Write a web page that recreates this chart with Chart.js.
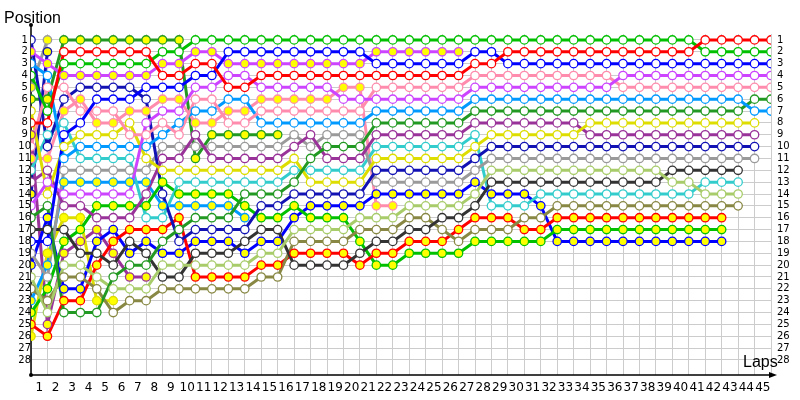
<!DOCTYPE html>
<html>
<head>
<meta charset="utf-8">
<script src="https://cdn.jsdelivr.net/npm/chart.js@4.4.0/dist/chart.umd.min.js"></script>
<style>
  html, body { margin: 0; padding: 0; background: #fff; }
  #wrap { width: 800px; height: 400px; }
</style>
</head>
<body>
<div id="wrap"><canvas id="lapChart"></canvas></div>
<script>
// Laps (x) and positions (y)
const laps = [0,1,2,3,4,5,6,7,8,9,10,11,12,13,14,15,16,17,18,19,20,21,22,23,24,25,26,27,28,29,30,31,32,33,34,35,36,37,38,39,40,41,42,43,44,45];
const positions = [1,2,3,4,5,6,7,8,9,10,11,12,13,14,15,16,17,18,19,20,21,22,23,24,25,26,27,28];

// Position of each car per lap, starting at the grid (lap 0)
const navy1 = [1,10,6,5,5,5,5,6,14,18, 17,17,17,17,15,15,14,14,14,14, 14,12,12,12,12,12,12,11,10,10, 10,10,10,10,10,10,10,10,10,10, 10,10,10,10,10];
const navy2 = [14,2];
const magenta2 = [2,3,4,4,4,4,4,4,3,3, 2,2,3,3,3,3,3,3,3,3, 3,2,2,2,2,2,2];
const magenta1 = [15,13,14,14,14,14,14,8,7,7, 5,5,4,4,5,5,5,5,5,6, 6,6,6,6,6,6,6,5,5,5, 5,5,5,5,5,5,4,4,4,4, 4,4,4,4,4,4];
const lightblue1 = [3,4,11,10,10,10,10,10,9,8, 7,7,6,6,8,8,8,8,8,8, 8,7,7,7,7,7,7,6,6,6, 6,6,6,6,6,6,6,6,6,6, 6,6,6,6,7,7];
const lightblue2 = [23,20,13,13,13,13,13,13,15,15, 15,15,15,16];
const green1 = [4,7,3,3,3,3,3,3,2,2, 1,1,1,1,1,1,1,1,1,1, 1,1,1,1,1,1,1,1,1,1, 1,1,1,1,1,1,1,1,1,1, 1,2,2,2,2,2];
const green2 = [24,22,18,17,15,15,15,15,13,14, 14,14,14,15,16,16,15,16,16,16, 18,20,20,19,19,19,19,18,18,18, 18,18,17,17,17,17,17,17,17,17, 17,17,17];
const gray2 = [5,1];
const gray1 = [19,21,12,12,12,12,12,12,10,10, 10,10,10,10,10,10,9,10,9,9, 9,13,13,13,13,13,13,12,11,11, 11,11,11,11,11,11,11,11,11,11, 11,11,11,11,11];
const dgreen2 = [6,6,1,1,1,1,1,1,1,1, 11,9,9,9,9,9];
const dgreen1 = [16,15,24,24,24,21,20,20,18,17, 16,16,16,14,14,14,13,11,10,10, 10,8,8,8,8,8,8,7,7,7, 7,7,7,7,7,7,7,7,7,7, 7,7,7,7,6,6];
const yellow1 = [7,14,10,9,9,9,8,11,12,12, 12,12,12,12,12,12,11,13,13,13, 13,11,11,11,11,11,11,10,9,9, 9,9,9,9,8,8,8,8,8,8, 8,8,8,8,8];
const yellow2 = [26,19,16,16,23,23];
const red1 = [8,8,2,2,2,2,2,2,4,4, 3,3,5,5,4,4,4,4,4,4, 4,4,4,4,4,4,4,3,3,2, 2,2,2,2,2,2,2,2,2,2, 2,1,1,1,1,1];
const red2 = [25,26,23,23,20,18,17,17,17,16, 21,21,21,21,20,20,19,19,19,19, 20,19,19,18,18,18,17,16,16,16, 17,17,16,16,16,16,16,16,16,16, 16,16,16];
const purple2 = [9,25,19,18,17,19,21,21];
const purple1 = [13,12,15,15,16,16,16,14,11,11, 9,11,11,11,11,11,10,9,11,11, 11,9,9,9,9,9,9,8,8,8, 8,8,8,8,9,9,9,9,9,9, 9,9,9,9,9];
const pink1 = [10,5,5,7,7,7,9,9,8,9, 6,6,8,8,7,7,7,7,7,7, 7,5,5,5,5,5,5,4,4,4, 4,4,4,4,4,4,5,5,5,5, 5,5,5,5,5,5];
const pink2 = [11,11,7,6,8,8,7,7,6,6, 8,8,7,7,6,6,6,6,6,5, 5,15,15];
const cyan1 = [12,9,8,11,11,11,11,16,16,13, 13,13,13,13,13,13,12,12,12,12, 12,10,10,10,10,10,10,9,15,15, 15,14,14,14,14,14,14,14,14,14, 14,13,13,13];
const dgray1 = [17,17,17,19,19,20,18,19,21,21, 19,19,19,18,17,17,20,20,20,20, 19,18,18,17,17,16,16,15,13,13, 13,13,13,13,13,13,13,13,13,12, 12,12,12,12];
const blue1 = [18,18,9,8,6,6,6,5,5,5, 4,4,2,2,2,2,2,2,2,2, 2,3,3,3,3,3,3,2,2,3, 3,3,3,3,3,3,3,3,3,3, 3,3,3,3,3,3];
const blue2 = [20,16,22,22,18,17,19,18,19,19, 18,18,18,19,18,18,16,15,15,15, 15,14,14,14,14,14,14,13,14,14, 14,15,18,18,18,18,18,18,18,18, 18,18,18];
const lgreen1 = [21,24,20,20,21,22,22,22,20,20, 20,20,20,20,19,19,17,17,17,17, 16,16,16,15,15,15,15,14,12,12, 12,12,12,12,12,12,12,12,12,13, 13,14,14,14];
const olive1 = [22,23,21,21,22,24,23,23,22,22, 22,22,22,22,21,21,18,18,18,18, 17,17,17,16,16,17,18,17,17,17, 16,16,15,15,15,15,15,15,15,15, 15,15,15,15];

const cars = [
  { data: red1, color: '#ff0000', fill: '#ffffff' },
  { data: green1, color: '#00c000', fill: '#ffffff' },
  { data: blue1, color: '#0000ff', fill: '#ffffff' },
  { data: magenta1, color: '#cc44ff', fill: '#ffffff' },
  { data: pink1, color: '#ff8cad', fill: '#ffffff' },
  { data: lightblue1, color: '#0099ff', fill: '#ffffff' },
  { data: dgreen1, color: '#229922', fill: '#ffffff' },
  { data: yellow1, color: '#dddd00', fill: '#ffffff' },
  { data: purple1, color: '#993399', fill: '#ffffff' },
  { data: navy1, color: '#1212b4', fill: '#ffffff' },
  { data: gray1, color: '#9a9a9a', fill: '#ffffff' },
  { data: lgreen1, color: '#a8cc6a', fill: '#ffffff' },
  { data: dgray1, color: '#333333', fill: '#ffffff' },
  { data: cyan1, color: '#33cccc', fill: '#ffffff' },
  { data: olive1, color: '#888844', fill: '#ffffff' },
  { data: red2, color: '#ff0000', fill: '#ffff00' },
  { data: green2, color: '#00c000', fill: '#ffff00' },
  { data: blue2, color: '#0000ff', fill: '#ffff00' },
  { data: magenta2, color: '#cc44ff', fill: '#ffff00' },
  { data: pink2, color: '#ff8cad', fill: '#ffff00' },
  { data: lightblue2, color: '#0099ff', fill: '#ffff00' },
  { data: dgreen2, color: '#229922', fill: '#ffff00' },
  { data: yellow2, color: '#dddd00', fill: '#ffff00' },
  { data: purple2, color: '#993399', fill: '#ffff00' },
  { data: navy2, color: '#1212b4', fill: '#ffff00' },
  { data: gray2, color: '#9a9a9a', fill: '#ffff00' }
];

const toPoints = arr => arr.map((p, i) => ({ x: laps[i], y: p }));

// lines underneath, markers on top
const lineSets = cars.map(c => ({
  data: toPoints(c.data),
  borderColor: c.color,
  borderWidth: 3,
  pointRadius: 0,
  tension: 0,
  order: 2
}));
const markSets = cars.map(c => ({
  data: toPoints(c.data),
  showLine: false,
  pointRadius: 4.2,
  pointBackgroundColor: c.fill,
  pointBorderColor: c.color,
  pointBorderWidth: 1.3,
  order: 1
}));

const tickFont = { family: 'DejaVu Sans', size: 10 };

const axisDecor = {
  id: 'axisDecor',
  beforeDatasetsDraw(chart) {
    const { ctx, chartArea: a } = chart;
    ctx.save();
    ctx.strokeStyle = '#000';
    ctx.fillStyle = '#000';
    ctx.lineWidth = 1.5;
    ctx.beginPath();
    ctx.moveTo(a.left, 25);
    ctx.lineTo(a.left, a.bottom);
    ctx.lineTo(a.right + 2, a.bottom);
    ctx.stroke();
    ctx.beginPath();
    ctx.moveTo(a.right - 2, a.bottom - 3);
    ctx.lineTo(a.right + 6, a.bottom);
    ctx.lineTo(a.right - 2, a.bottom + 3);
    ctx.closePath();
    ctx.fill();
    ctx.beginPath();
    ctx.arc(a.left, 25, 2, 0, Math.PI * 2);
    ctx.arc(a.left, a.bottom, 2, 0, Math.PI * 2);
    ctx.fill();
    ctx.restore();
  },
  afterDraw(chart) {
    const { ctx } = chart;
    ctx.save();
    ctx.fillStyle = '#000';
    ctx.font = '16px "Liberation Sans"';
    ctx.textBaseline = 'alphabetic';
    ctx.fillText('Position', 4, 23);
    ctx.fillText('Laps', 743, 367);
    ctx.restore();
  }
};

new Chart(document.getElementById('lapChart'), {
  type: 'line',
  data: { datasets: [...lineSets, ...markSets] },
  plugins: [axisDecor],
  options: {
    responsive: true,
    maintainAspectRatio: false,
    animation: false,
    layout: { padding: { top: 34 } },
    plugins: { legend: { display: false }, tooltip: { enabled: false } },
    scales: {
      x: {
        type: 'linear',
        position: 'bottom',
        min: 0,
        max: 45,
        afterBuildTicks: s => { s.ticks = laps.map(v => ({ value: v })); },
        afterFit: s => { s.height = 25; },
        grid: { color: '#cccccc', lineWidth: 1, drawTicks: false },
        border: { display: false },
        ticks: {
          autoSkip: false,
          maxRotation: 0,
          labelOffset: -8.2,
          padding: 6,
          color: '#000',
          font: { family: 'DejaVu Sans', size: 12 },
          callback: v => (v === 0 ? '' : v)
        }
      },
      y: {
        type: 'linear',
        position: 'left',
        reverse: true,
        min: 0.5,
        max: 29.27,
        afterBuildTicks: s => { s.ticks = positions.map(v => ({ value: v })); },
        afterFit: s => { s.width = 31; },
        grid: { color: '#cccccc', lineWidth: 1, drawTicks: false },
        border: { display: false },
        ticks: { autoSkip: false, crossAlign: 'center', padding: 0, color: '#000', font: tickFont }
      },
      y2: {
        type: 'linear',
        position: 'right',
        reverse: true,
        min: 0.5,
        max: 29.27,
        afterBuildTicks: s => { s.ticks = positions.map(v => ({ value: v })); },
        afterFit: s => { s.width = 29; },
        grid: { display: false, drawTicks: false },
        border: { display: false },
        ticks: { autoSkip: false, padding: 6, color: '#000', font: tickFont }
      }
    }
  }
});
</script>
</body>
</html>
